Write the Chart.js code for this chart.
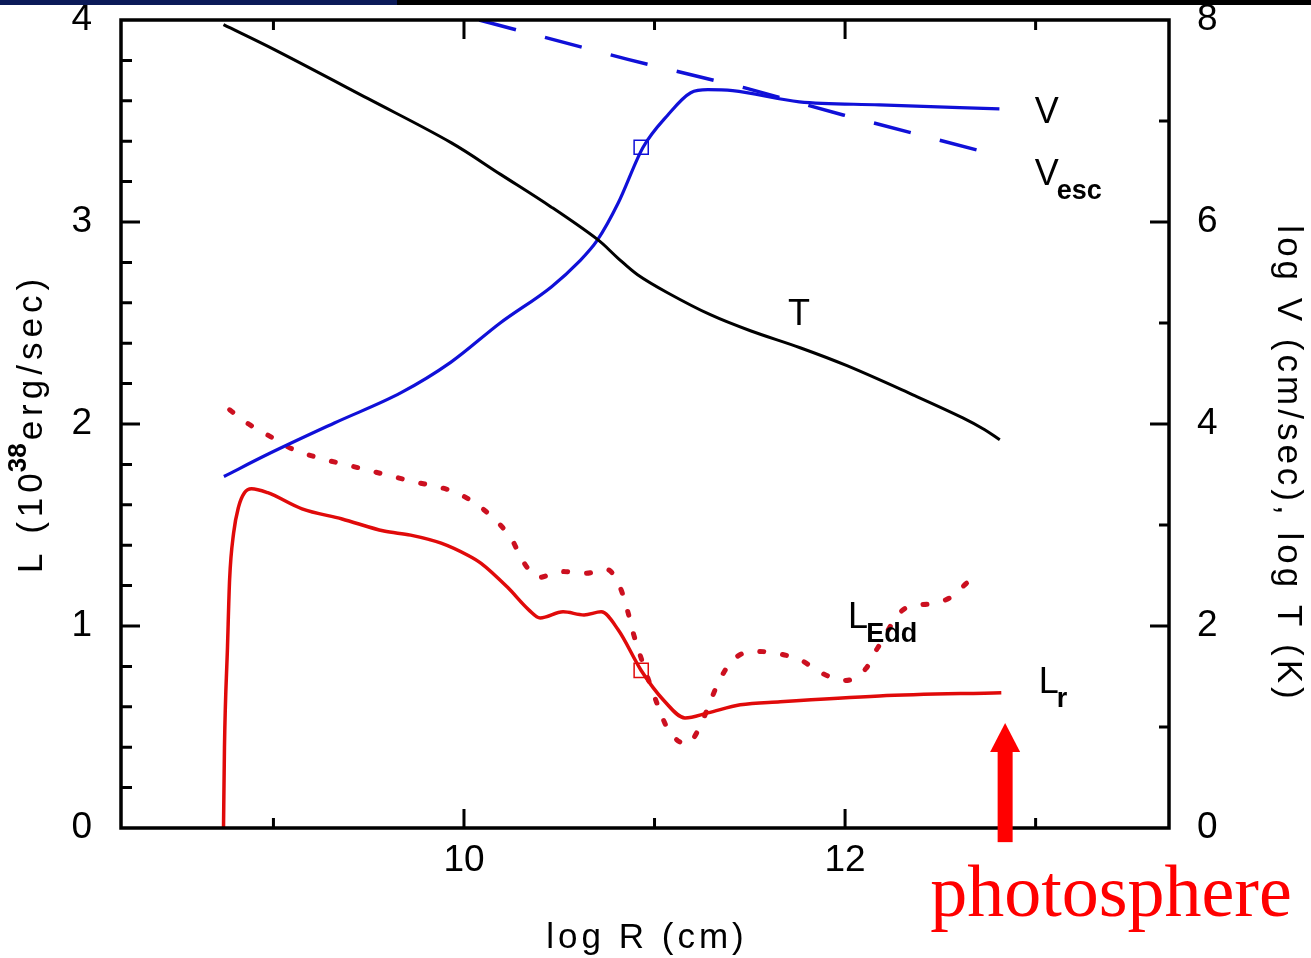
<!DOCTYPE html>
<html>
<head>
<meta charset="utf-8">
<title>Luminosity, velocity and temperature vs radius</title>
<script src="https://cdn.jsdelivr.net/npm/chart.js@4.4.1/dist/chart.umd.min.js"></script>
<style>
  html, body { margin: 0; padding: 0; background: #fff; }
  #wrap { position: relative; width: 1311px; height: 958px; }
</style>
</head>
<body>
<div id="wrap"><canvas id="chart" width="1311" height="958"></canvas></div>
<script>
// values: log R (cm) vs quantity
const tempR    = [8.738, 9.005, 9.497, 9.932, 10.194, 10.455, 10.702, 10.806, 10.911, 11.068, 11.293, 11.503, 11.764, 12.010, 12.356, 12.618, 12.733, 12.812];
const tempLogT = [7.954, 7.707, 7.221, 6.786, 6.469, 6.152, 5.825, 5.646, 5.478, 5.300, 5.082, 4.923, 4.755, 4.577, 4.289, 4.061, 3.943, 3.843];

const velR    = [8.74, 8.97, 9.32, 9.67, 9.93, 10.19, 10.46, 10.60, 10.70, 10.81, 10.94, 11.07, 11.19, 11.28, 11.41, 11.76, 12.18, 12.81];
const velLogV = [3.48, 3.70, 4.01, 4.31, 4.61, 5.00, 5.36, 5.60, 5.82, 6.19, 6.74, 7.06, 7.28, 7.31, 7.30, 7.19, 7.16, 7.12];

const escR    = [10.08, 10.86, 11.47, 11.99, 12.82];
const escLogV = [8.00, 7.61, 7.33, 7.06, 6.65];

const lumR  = [8.738, 8.743, 8.759, 8.770, 8.791, 8.817, 8.848, 8.885, 8.97, 9.15, 9.36, 9.58, 9.72, 9.88, 10.02, 10.09, 10.23, 10.34, 10.40, 10.52, 10.63, 10.72, 10.81, 10.93, 11.05, 11.16, 11.28, 11.45, 11.66, 12.18, 12.82];
const lumLr = [0, 0.40, 0.90, 1.23, 1.46, 1.59, 1.66, 1.68, 1.66, 1.58, 1.53, 1.47, 1.45, 1.41, 1.35, 1.31, 1.19, 1.08, 1.04, 1.07, 1.055, 1.07, 0.98, 0.78, 0.63, 0.545, 0.57, 0.61, 0.625, 0.654, 0.67];

const eddR  = [8.77, 8.87, 8.98, 9.09, 9.21, 9.46, 9.71, 9.96, 10.07, 10.17, 10.25, 10.31, 10.39, 10.51, 10.63, 10.75, 10.82, 10.86, 10.89, 10.93, 11.02, 11.07, 11.17, 11.24, 11.29, 11.34, 11.41, 11.52, 11.64, 11.77, 11.87, 12.00, 12.11, 12.17, 12.32, 12.45, 12.56, 12.65, 12.72];
const eddL  = [2.07, 2.00, 1.94, 1.88, 1.84, 1.78, 1.72, 1.66, 1.60, 1.52, 1.43, 1.32, 1.24, 1.27, 1.26, 1.28, 1.19, 1.07, 0.96, 0.84, 0.60, 0.49, 0.415, 0.505, 0.62, 0.73, 0.83, 0.875, 0.865, 0.83, 0.77, 0.73, 0.79, 0.89, 1.09, 1.11, 1.145, 1.22, 1.24];

// the two open squares
const markR    = [10.93];
const markLogV = [6.74];
const markL    = [0.78];

const xTickLabels  = [10, 12];
const photosphereR = 12.84;

const FONT = '"Liberation Sans", Arial, Helvetica, sans-serif';
const BLUE = '#1010d8';
const RED = '#e00a0a';

const pts = (xs, ys) => xs.map((x, i) => ({ x: x, y: ys[i] }));

// text with the wide letter spacing of the original
function spacedWidth(ctx, str, sp) {
  let w = 0;
  for (const ch of str) w += ctx.measureText(ch).width + sp;
  return w - sp;
}
function spacedText(ctx, str, x, y, sp) {
  let cx = x;
  for (const ch of str) { ctx.fillText(ch, cx, y); cx += ctx.measureText(ch).width + sp; }
  return cx - sp;
}

// curve labels: main letter + subscript, anchored in data coords (left axis)
const curveLabels = [
  { main: 'V', sub: '',    x: 12.995, y: 3.49 },
  { main: 'V', sub: 'esc', x: 12.995, y: 3.185 },
  { main: 'T', sub: '',    x: 11.70,  y: 2.49 },
  { main: 'L', sub: 'Edd', x: 12.016, y: 0.99 },
  { main: 'L', sub: 'r',   x: 13.016, y: 0.669 }
];

const framePlugin = {
  id: 'frame',
  beforeDraw(chart) {
    const ctx = chart.ctx;
    ctx.save();
    ctx.fillStyle = '#fff';
    ctx.fillRect(0, 0, chart.width, chart.height);
    ctx.restore();
  },
  afterDraw(chart) {
    const { ctx, chartArea: a } = chart;
    const { x, y, y2 } = chart.scales;
    ctx.save();

    // top strip
    ctx.fillStyle = '#0b1a58';
    ctx.fillRect(0, 0, 397, 5);
    ctx.fillStyle = '#000';
    ctx.fillRect(397, 0, chart.width - 397, 5);

    // box and inward ticks
    ctx.strokeStyle = '#000';
    ctx.lineWidth = 3.5;
    ctx.strokeRect(a.left, a.top, a.right - a.left, a.bottom - a.top);
    ctx.lineWidth = 3;
    ctx.beginPath();
    for (let v = 9; v <= 13; v++) {
      const px = x.getPixelForValue(v);
      const len = v % 2 === 0 ? 19 : 10;
      ctx.moveTo(px, a.bottom); ctx.lineTo(px, a.bottom - len);
      ctx.moveTo(px, a.top); ctx.lineTo(px, a.top + len);
    }
    for (let i = 1; i < 20; i++) {
      const py = y.getPixelForValue(i * 0.2);
      const len = i % 5 === 0 ? 19 : 11;
      ctx.moveTo(a.left, py); ctx.lineTo(a.left + len, py);
    }
    for (let v = 1; v < 8; v++) {
      const py = y2.getPixelForValue(v);
      const len = v % 2 === 0 ? 19 : 10;
      ctx.moveTo(a.right, py); ctx.lineTo(a.right - len, py);
    }
    ctx.stroke();

    // curve labels
    ctx.fillStyle = '#000';
    ctx.textAlign = 'left';
    ctx.textBaseline = 'alphabetic';
    curveLabels.forEach(l => {
      const px = x.getPixelForValue(l.x);
      const py = y.getPixelForValue(l.y);
      ctx.font = '36px ' + FONT;
      ctx.fillText(l.main, px, py);
      if (l.sub) {
        const w = ctx.measureText(l.main).width;
        ctx.font = 'bold 27px ' + FONT;
        ctx.fillText(l.sub, px + w - 2, py + 14);
      }
    });

    // axis titles
    ctx.font = '35px ' + FONT;
    const bx = (a.left + a.right) / 2;
    const bw = spacedWidth(ctx, 'log R (cm)', 4);
    spacedText(ctx, 'log R (cm)', bx - bw / 2, 948, 4);

    // left: L (10^38 erg/sec)
    ctx.save();
    ctx.translate(42, 425);
    ctx.rotate(-Math.PI / 2);
    ctx.font = '35px ' + FONT;
    const p1 = 'L (10', p3 = 'erg/sec)';
    const w1 = spacedWidth(ctx, p1, 5);
    const w3 = spacedWidth(ctx, p3, 5);
    ctx.font = 'bold 26px ' + FONT;
    const w2 = spacedWidth(ctx, '38', 0);
    let cx = -(w1 + w2 + w3 + 6) / 2;
    ctx.font = '35px ' + FONT;
    cx = spacedText(ctx, p1, cx, 0, 5);
    ctx.font = 'bold 26px ' + FONT;
    cx = spacedText(ctx, '38', cx + 1, -16, 0);
    ctx.font = '35px ' + FONT;
    spacedText(ctx, p3, cx + 3, 0, 5);
    ctx.restore();

    // right title
    ctx.save();
    ctx.translate(1278, 462);
    ctx.rotate(Math.PI / 2);
    ctx.font = '35px ' + FONT;
    const rt = 'log V (cm/sec), log T (K)';
    const rw = spacedWidth(ctx, rt, 4);
    spacedText(ctx, rt, -rw / 2, 0, 4);
    ctx.restore();

    // photosphere arrow
    const ax = x.getPixelForValue(photosphereR);
    const tipY = y.getPixelForValue(0.52);
    const baseY = y.getPixelForValue(-0.07);
    ctx.fillStyle = '#ff0000';
    ctx.fillRect(ax - 7.5, tipY + 28, 15, baseY - tipY - 28);
    ctx.beginPath();
    ctx.moveTo(ax - 15, tipY + 29);
    ctx.lineTo(ax, tipY);
    ctx.lineTo(ax + 15, tipY + 29);
    ctx.closePath();
    ctx.fill();
    ctx.font = '74px "Liberation Serif", "Times New Roman", serif';
    ctx.fillText('photosphere', ax - 75, 916);

    ctx.restore();
  }
};

const tickFont = { family: FONT, size: 37 };
const noPad = s => { s.paddingTop = 0; s.paddingBottom = 0; s.paddingLeft = 0; s.paddingRight = 0; };

new Chart(document.getElementById('chart'), {
  type: 'line',
  data: {
    datasets: [
      { label: 'T', data: pts(tempR, tempLogT), yAxisID: 'y2', borderColor: '#000', borderWidth: 3, tension: 0.35, pointRadius: 0 },
      { label: 'V', data: pts(velR, velLogV), yAxisID: 'y2', borderColor: BLUE, borderWidth: 3.2, cubicInterpolationMode: 'monotone', pointRadius: 0 },
      { label: 'Vesc', data: pts(escR, escLogV), yAxisID: 'y2', borderColor: BLUE, borderWidth: 3.5, borderDash: [38, 30], tension: 0, pointRadius: 0 },
      { label: 'Lr', data: pts(lumR, lumLr), yAxisID: 'y', borderColor: RED, borderWidth: 3.5, cubicInterpolationMode: 'monotone', pointRadius: 0 },
      { label: 'LEdd', data: pts(eddR, eddL), yAxisID: 'y', borderColor: '#cc1020', borderWidth: 5, borderDash: [4, 19], borderCapStyle: 'round', cubicInterpolationMode: 'monotone', pointRadius: 0 },
      { label: 'mark V', data: pts(markR, markLogV), yAxisID: 'y2', showLine: false, pointStyle: 'rect', pointRadius: 10, borderColor: BLUE, borderWidth: 1.5, backgroundColor: 'rgba(0,0,0,0)' },
      { label: 'mark L', data: pts(markR, markL), yAxisID: 'y', showLine: false, pointStyle: 'rect', pointRadius: 10, borderColor: RED, borderWidth: 1.5, backgroundColor: 'rgba(0,0,0,0)' }
    ]
  },
  options: {
    responsive: false,
    animation: false,
    layout: { padding: { top: 20, left: 0, right: 0, bottom: 0 } },
    plugins: { legend: { display: false }, tooltip: { enabled: false } },
    scales: {
      x: {
        type: 'linear', min: 8.2, max: 13.7,
        afterBuildTicks: s => { s.ticks = xTickLabels.map(v => ({ value: v })); },
        afterFit: s => { s.height = 130; noPad(s); },
        grid: { display: false, drawTicks: false },
        border: { display: false },
        ticks: { font: tickFont, color: '#000', padding: 11, maxRotation: 0 }
      },
      y: {
        min: 0, max: 4, position: 'left',
        afterFit: s => { s.width = 121; noPad(s); },
        grid: { display: false, drawTicks: false },
        border: { display: false },
        ticks: { stepSize: 1, font: tickFont, color: '#000', padding: 29 }
      },
      y2: {
        min: 0, max: 8, position: 'right',
        afterFit: s => { s.width = 142; noPad(s); },
        grid: { display: false, drawTicks: false },
        border: { display: false },
        ticks: { stepSize: 2, font: tickFont, color: '#000', padding: 28 }
      }
    }
  },
  plugins: [framePlugin]
});
</script>
</body>
</html>
